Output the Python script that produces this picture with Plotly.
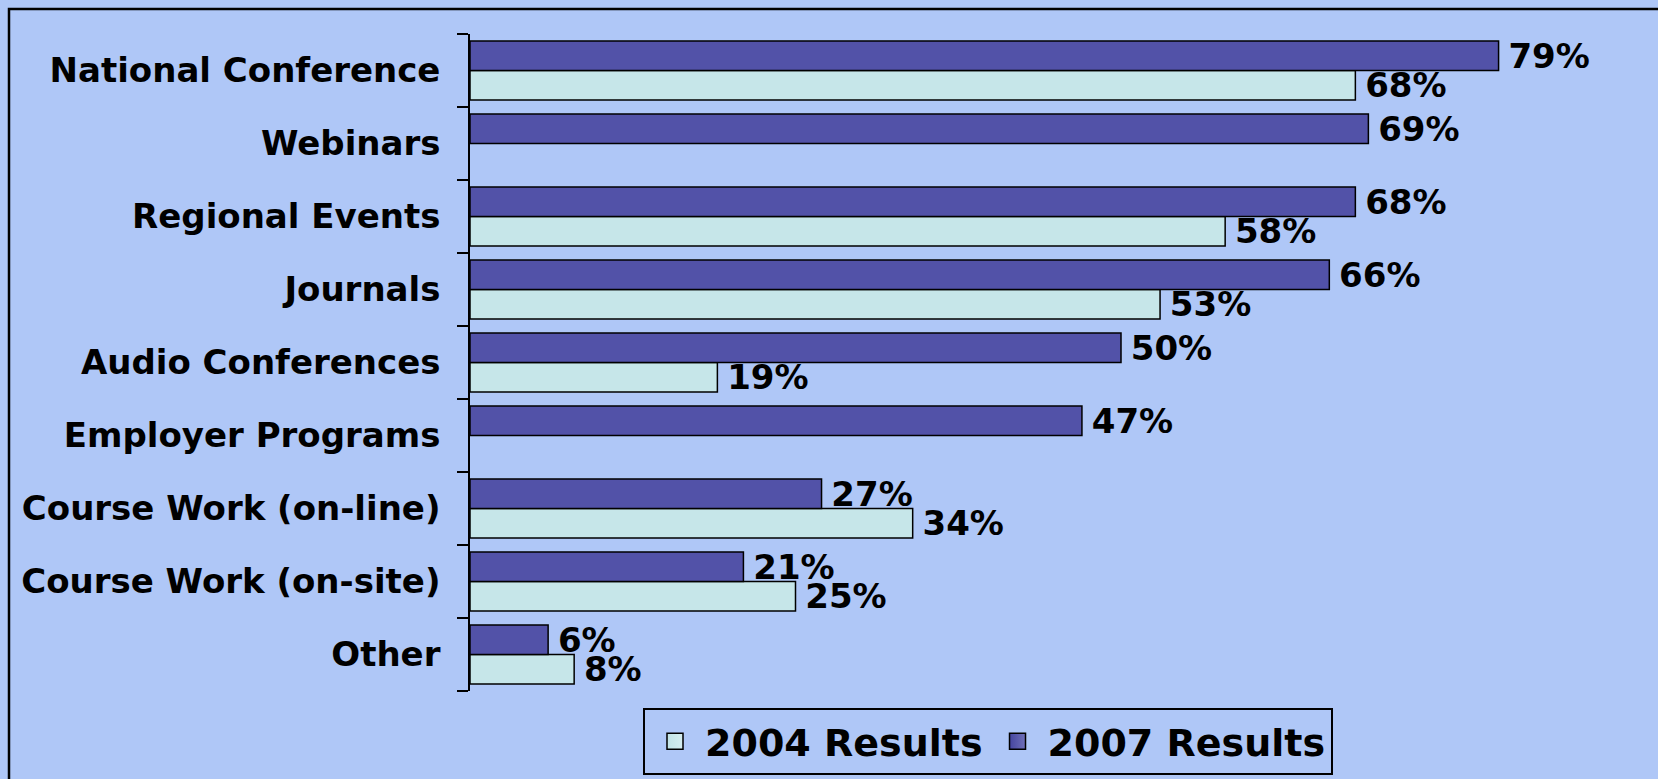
import plotly.graph_objects as go

categories = ["National Conference", "Webinars", "Regional Events", "Journals",
              "Audio Conferences", "Employer Programs", "Course Work (on-line)",
              "Course Work (on-site)", "Other"]
results_2004 = [68, None, 58, 53, 19, None, 34, 25, 8]
results_2007 = [79, 69, 68, 66, 50, 47, 27, 21, 6]
series_names = ["2004 Results", "2007 Results"]

BG = "#AFC7F7"
FONT = "DejaVu Sans"
C2004 = "#C6E6E9"
C2007 = "#5252A8"
W, H = 1658, 779
L, R, T, B = 470, 18, 34, 88
PX_PER_UNIT = 13.02
pw = W - L - R
ph = H - T - B
xmax = pw / PX_PER_UNIT


def labels(vals):
    return ["" if v is None else "\u2009%d%%" % v for v in vals]


def px_x(px):
    return (px - L) / pw


def px_y(py):
    return (H - B - py) / ph


fig = go.Figure()
for vals, name, col in [(results_2004, series_names[0], C2004),
                        (results_2007, series_names[1], C2007)]:
    fig.add_trace(go.Bar(
        y=categories, x=vals, orientation="h", name=name, showlegend=False,
        marker=dict(color=col, line=dict(color="black", width=1.5)),
        text=labels(vals), textposition="outside", constraintext="none",
        cliponaxis=False,
        textfont=dict(family=FONT, size=34, color="black", weight="bold"),
        hoverinfo="skip"))

# legend-only entries (no data) for larger swatches
legend_styles = [("#C2E4E7", "#D6EEF0"), ("#45459F", "#7070B8")]
for name, (c0, c1) in zip(series_names, legend_styles):
    fig.add_trace(go.Scatter(
        x=[None], y=[None], mode="markers", name=name,
        marker=dict(symbol="square", size=30, color=c0,
                    gradient=dict(type="horizontal", color=c1),
                    line=dict(color="black", width=1.5)),
        hoverinfo="skip"))

fig.add_shape(type="rect", xref="paper", yref="paper",
              x0=px_x(9), x1=px_x(W + 20), y0=px_y(H + 20), y1=px_y(9),
              line=dict(color="black", width=2.5), fillcolor="rgba(0,0,0,0)",
              layer="below")

fig.update_layout(
    width=W, height=H,
    margin=dict(l=L, r=R, t=T, b=B, autoexpand=False),
    paper_bgcolor=BG, plot_bgcolor=BG,
    barmode="group", bargap=0.19, bargroupgap=0,
    showlegend=True,
    legend=dict(orientation="h", x=px_x(988), xanchor="center",
                y=px_y(708), yanchor="top",
                bgcolor=BG, bordercolor="black", borderwidth=2,
                itemsizing="trace", itemwidth=50,
                font=dict(family=FONT, size=38, color="black", weight="bold"),
                traceorder="normal"),
    xaxis=dict(visible=False, range=[0, xmax]),
    yaxis=dict(type="category", categoryorder="array", categoryarray=categories[::-1],
               range=[-0.5, len(categories) - 0.5],
               ticks="outside", tickson="boundaries", ticklen=11, tickwidth=1.5,
               tickcolor="black", showline=True, linecolor="black", linewidth=1.5,
               showgrid=False, zeroline=False, ticklabelstandoff=21,
               tickfont=dict(family=FONT, size=34, color="black", weight="bold")),
)

fig.write_html("out.html", config={"displayModeBar": False},
               post_script="document.body.style.margin='0';document.body.style.overflow='hidden';")
